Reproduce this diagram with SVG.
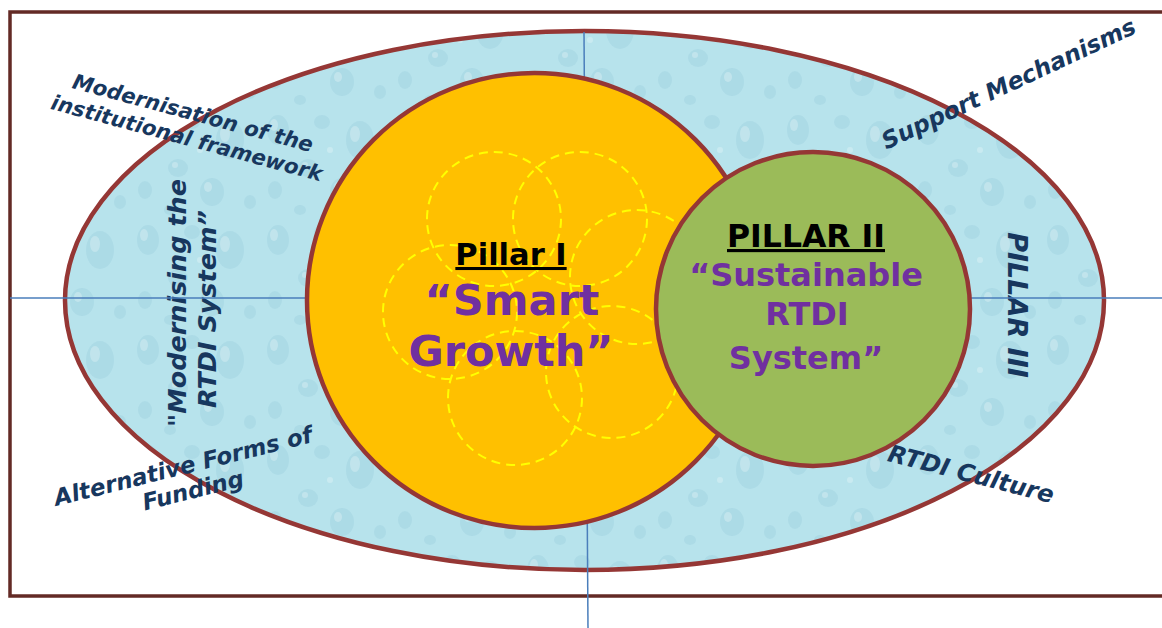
<svg xmlns="http://www.w3.org/2000/svg" width="1162" height="628" viewBox="0 0 1162 628">
  <style>
    .lbl { font-family: "DejaVu Sans", Verdana, sans-serif; font-weight: bold; font-style: italic; fill: #17375e; }
    .head { font-family: "DejaVu Sans", Verdana, sans-serif; font-weight: bold; fill: #000; text-decoration: underline; }
    .title { font-family: "DejaVu Sans", Verdana, sans-serif; font-weight: bold; fill: #7030a0; }
    .axis { stroke: #4a7ebb; stroke-width: 1.5; fill: none; }
    .ring { stroke: #953735; stroke-width: 4.5; }
    .petal { fill: none; stroke: #ffff00; stroke-width: 2; stroke-dasharray: 9 6; }
    .drop { fill: #8fc6d6; opacity: 0.28; }
    .shine { fill: #ffffff; opacity: 0.25; }
  </style>
  <defs>
    <pattern id="drops" width="130" height="110" patternUnits="userSpaceOnUse">
      <rect width="130" height="110" fill="#b7e3ec"/>
      <ellipse class="drop" cx="18" cy="20" rx="11" ry="15"/>
      <ellipse class="shine" cx="14" cy="15" rx="4" ry="6"/>
      <ellipse class="drop" cx="62" cy="12" rx="8" ry="7"/>
      <ellipse class="drop" cx="100" cy="30" rx="14" ry="19"/>
      <ellipse class="shine" cx="95" cy="24" rx="5" ry="8"/>
      <ellipse class="drop" cx="48" cy="58" rx="10" ry="9"/>
      <ellipse class="shine" cx="45" cy="55" rx="3" ry="3"/>
      <ellipse class="drop" cx="15" cy="80" rx="7" ry="9"/>
      <ellipse class="drop" cx="82" cy="82" rx="12" ry="14"/>
      <ellipse class="shine" cx="78" cy="77" rx="4" ry="5"/>
      <ellipse class="drop" cx="120" cy="92" rx="6" ry="7"/>
      <ellipse class="drop" cx="40" cy="100" rx="6" ry="5"/>
      <ellipse class="shine" cx="70" cy="40" rx="3" ry="3"/>
    </pattern>
  </defs>

  <rect id="frame" x="10" y="12" width="1162" height="584" fill="#ffffff" stroke="#632a25" stroke-width="3.5"/>

  <g id="outer-ellipse">
    <ellipse cx="584.5" cy="300.5" rx="519.5" ry="269.5" fill="url(#drops)" class="ring"/>
  </g>

  <g id="outer-labels">
    <g id="label-modernisation">
      <text class="lbl" font-size="21" text-anchor="middle" transform="translate(191,120) rotate(15)">Modernisation of the</text>
      <text class="lbl" font-size="21" text-anchor="middle" transform="translate(185,145) rotate(15)">institutional framework</text>
    </g>
    <g id="label-support">
      <text class="lbl" font-size="23.5" text-anchor="middle" transform="translate(1012,91) rotate(-25)">Support Mechanisms</text>
    </g>
    <g id="label-funding">
      <text class="lbl" font-size="23" text-anchor="middle" transform="translate(185,474) rotate(-14)">Alternative Forms of</text>
      <text class="lbl" font-size="23" text-anchor="middle" transform="translate(195,498) rotate(-14)">Funding</text>
    </g>
    <g id="label-culture">
      <text class="lbl" font-size="24" text-anchor="middle" transform="translate(969,482) rotate(14.5)">RTDI Culture</text>
    </g>
    <g id="label-modernising-system">
      <text class="lbl" font-size="25.5" text-anchor="middle" transform="translate(186,303) rotate(-90)">"Modernising the</text>
      <text class="lbl" font-size="25.5" text-anchor="middle" transform="translate(216,309) rotate(-90)">RTDI System”</text>
    </g>
    <g id="label-pillar3">
      <text class="lbl" font-size="27" text-anchor="middle" transform="translate(1008,305) rotate(90)">PILLAR III</text>
    </g>
  </g>

  <g id="connectors">
    <line class="axis" x1="10" y1="298" x2="1162" y2="298"/>
    <line class="axis" x1="584" y1="32" x2="588" y2="628"/>
  </g>

  <g id="pillar1">
    <circle cx="534.5" cy="300.5" r="227.5" fill="#ffc000" class="ring"/>
    <g id="petals">
      <circle class="petal" cx="494" cy="219" r="67"/>
      <circle class="petal" cx="580" cy="219" r="67"/>
      <circle class="petal" cx="637" cy="277" r="67"/>
      <circle class="petal" cx="450" cy="312" r="67"/>
      <circle class="petal" cx="515" cy="398" r="67"/>
      <circle class="petal" cx="612" cy="372" r="66"/>
    </g>
    <text class="head" font-size="30.5" x="511" y="265" text-anchor="middle">Pillar I</text>
    <text class="title" font-size="43" x="512" y="315" text-anchor="middle">“Smart</text>
    <text class="title" font-size="43" x="511" y="366" text-anchor="middle">Growth”</text>
  </g>

  <g id="pillar2">
    <circle cx="813" cy="309" r="157" fill="#9bbb59" class="ring"/>
    <text class="head" font-size="31.5" x="806" y="247" text-anchor="middle">PILLAR II</text>
    <text class="title" font-size="32" x="806" y="286" text-anchor="middle">“Sustainable</text>
    <text class="title" font-size="32" x="807" y="325" text-anchor="middle">RTDI</text>
    <text class="title" font-size="32" x="806" y="369" text-anchor="middle">System”</text>
  </g>
</svg>
